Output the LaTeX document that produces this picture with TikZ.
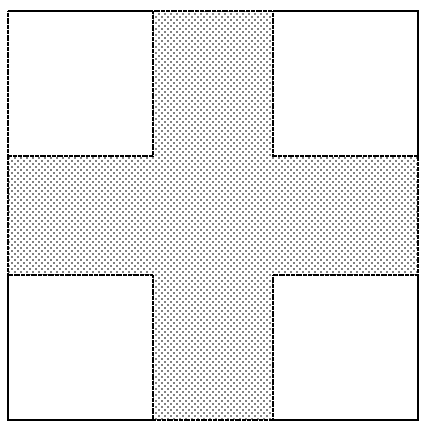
\documentclass[tikz,border=0pt]{standalone}
\usetikzlibrary{patterns}
% staggered dot grid, 6pt tile
\pgfdeclarepatternformonly{crossdots}{\pgfqpoint{-1pt}{-1pt}}{\pgfqpoint{5pt}{5pt}}{\pgfqpoint{6pt}{6pt}}{
  \pgfpathcircle{\pgfqpoint{0pt}{0pt}}{.9pt}
  \pgfpathcircle{\pgfqpoint{3pt}{3pt}}{.9pt}
  \pgfusepath{fill}
}
\begin{document}
\begin{tikzpicture}[x=1pt,y=-1pt]
    \tikzset{edge/.style={line width=1.5pt, densely dotted, dash pattern=on 1.4pt off 0.3pt}}
    \useasboundingbox (0,0) rectangle (432,431);
    % outer square, dotted cross
    \coordinate (nw) at (8,11);
    \coordinate (se) at (418,420);
    \fill[pattern=crossdots] (nw) rectangle (se);
    % corner squares
    \foreach \x/\y/\name in {8/11/tl, 273/11/tr, 8/275/bl, 273/275/br}{
      \coordinate (\name) at (\x,\y);
      \filldraw[fill=white, edge] (\name) rectangle ++(145,145);
    }
    \draw[edge] (nw) rectangle (se);
  \end{tikzpicture}
\end{document}
